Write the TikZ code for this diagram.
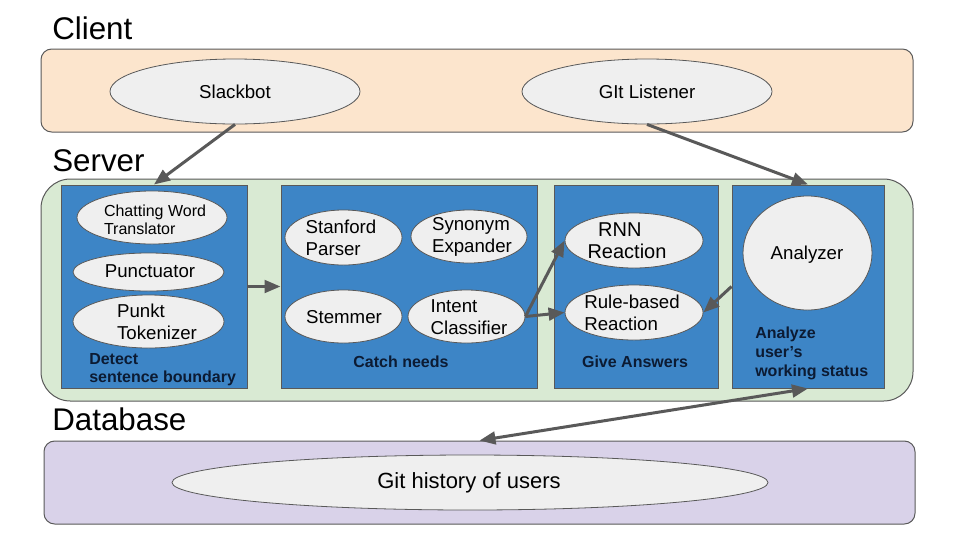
\documentclass[tikz,border=0pt]{standalone}
\usepackage{fontspec}
\setmainfont{Liberation Sans}
\usetikzlibrary{positioning, shapes.geometric, arrows.meta}

\definecolor{clientfill}{HTML}{FCE5CD}
\definecolor{serverfill}{HTML}{D9EAD3}
\definecolor{dbfill}{HTML}{D9D2E9}
\definecolor{stagefill}{HTML}{3D85C6}
\definecolor{bubblefill}{HTML}{EFEFEF}
\definecolor{edgegray}{HTML}{595959}
\definecolor{captionblue}{HTML}{0C1B33}

\tikzset{
  layer/.style={draw=edgegray, line width=0.75pt, rounded corners=8pt},
  stage/.style={draw=edgegray, fill=stagefill, line width=0.75pt, minimum height=152.25pt},
  bubble/.style={ellipse, draw=edgegray, fill=bubblefill, line width=0.6pt, inner sep=0pt},
  word/.style={inner sep=0pt, align=left, font=\fontsize{14}{16.5}\selectfont},
  caption/.style={inner sep=0pt, align=left, text=captionblue, font=\fontsize{12}{14}\selectfont\bfseries},
  title/.style={inner sep=0pt, anchor=base west, font=\fontsize{23.5}{28}\selectfont},
  flow/.style={draw=edgegray, line width=2.25pt},
}

\begin{document}
\begin{tikzpicture}[x=0.75pt, y=-0.75pt, >={Triangle[length=12pt,width=9.5pt]}]
            \useasboundingbox (0, 0) rectangle (960, 540);

            % layers
            \node[layer, fill=clientfill, minimum width=654pt, minimum height=62.25pt] (client) at (477, 90.5) {};
            \node[layer, fill=serverfill, rounded corners=22pt, minimum width=654pt, minimum height=166.5pt] (server) at (477, 290) {};
            \node[layer, fill=dbfill, minimum width=653.25pt, minimum height=62.25pt] (database) at (479.5, 482.5) {};
            \node[title] (client_title) at (52, 39.5) {Client};
            \node[title] (server_title) at (52, 171) {Server};
            \node[title] (database_title) at (52, 430) {Database};

            % client
            \node[bubble, minimum width=187.5pt, minimum height=48.75pt] (slackbot) at (235, 91.5) {};
            \node[word] (slackbot_text) at (235, 92) {Slackbot};
            \node[bubble, minimum width=187.5pt, minimum height=48.75pt] (gitlistener) at (647, 91.5) {};
            \node[word] (gitlistener_text) at (647, 92) {GIt Listener};

            % server stages
            \node[stage, minimum width=139.5pt] (detect) at (154, 286.5) {};
            \node[stage, minimum width=192pt] (catch) at (409, 286.5) {};
            \node[stage, minimum width=123pt] (answer) at (636, 286.5) {};
            \node[stage, minimum width=114pt] (analyze) at (808, 286.5) {};

            \node[bubble, minimum width=112.5pt, minimum height=39.75pt] (translator) at (152, 217.5) {};
            \node[word, font=\fontsize{12}{13.7}\selectfont] (translator_text) at (155, 220) {Chatting Word\\Translator};
            \node[bubble, minimum width=113.25pt, minimum height=28.5pt] (punctuator) at (148.5, 272) {};
            \node[word] (punctuator_text) at (150, 271) {Punctuator};
            \node[bubble, minimum width=113.25pt, minimum height=39.75pt] (tokenizer) at (148.5, 321.5) {};
            \node[word] (tokenizer_text) at (157, 322) {Punkt\\Tokenizer};
            \node[caption, anchor=north west] (detect_text) at (89, 353) {Detect\\sentence boundary};

            \node[bubble, minimum width=87.75pt, minimum height=41.25pt] (parser) at (343.5, 237.5) {};
            \node[word] (parser_text) at (341, 238) {Stanford\\Parser};
            \node[bubble, minimum width=87pt, minimum height=39.75pt] (expander) at (469, 236.5) {};
            \node[word] (expander_text) at (472, 237) {Synonym\\Expander};
            \node[bubble, minimum width=87.75pt, minimum height=39.75pt] (stemmer) at (343.5, 316.5) {};
            \node[word] (stemmer_text) at (344, 317) {Stemmer};
            \node[bubble, minimum width=87.75pt, minimum height=39.75pt] (classifier) at (466.5, 316.5) {};
            \node[word] (classifier_text) at (469, 317) {Intent\\Classifier};
            \node[caption, anchor=base] (catch_text) at (401, 367) {Catch needs};

            \node[bubble, minimum width=103.5pt, minimum height=41.25pt] (rnn) at (634, 240.5) {};
            \node[word, font=\fontsize{15}{16.5}\selectfont] (rnn_text) at (627, 241) {\hspace*{8pt}RNN\\Reaction};
            \node[bubble, minimum width=103.5pt, minimum height=41.25pt] (rule) at (634, 312.5) {};
            \node[word] (rule_text) at (632, 313) {Rule-based\\Reaction};
            \node[caption, anchor=base] (answer_text) at (635, 367) {Give Answers};

            \node[bubble, minimum width=96.75pt, minimum height=85.5pt] (analyzer) at (807.5, 253) {};
            \node[word] (analyzer_text) at (807, 255) {Analyzer};
            \node[caption, anchor=north west] (analyze_text) at (755, 327) {Analyze\\user’s\\working status};

            % database
            \node[bubble, minimum width=447pt, minimum height=41.25pt] (history) at (470, 482.5) {};
            \node[word, font=\fontsize{16.5}{19}\selectfont] (history_text) at (469, 483) {Git history of users};

            \draw [->, flow] (slackbot.south) -- (detect.north);
            \draw [->, flow] (gitlistener.south) -- (analyze.north);
            \draw [->, flow] (detect) -- (catch);
            \draw [->, flow] (classifier.east) -- (rnn.west);
            \draw [->, flow] (classifier.east) -- (rule.west);
            \draw [->, flow] (analyze.west) -- (rule.east);
            \draw [<->, flow] (database.north) -- (analyze.south);
        \end{tikzpicture}
\end{document}
